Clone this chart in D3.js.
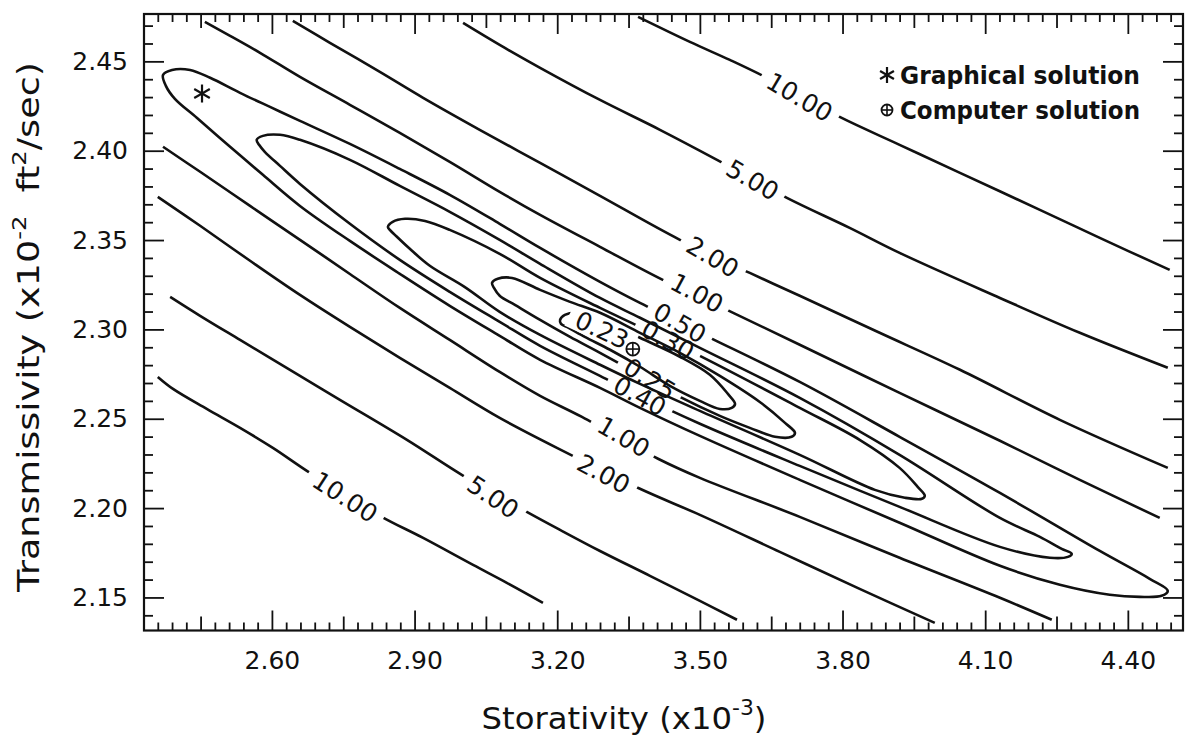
<!DOCTYPE html>
<html>
<head>
<meta charset="utf-8">
<script src="https://cdn.jsdelivr.net/npm/d3@7/dist/d3.min.js"></script>
<style>
  body { margin: 0; background: #fff; }
  text { font-family: "DejaVu Sans", sans-serif; fill: #111; }
</style>
</head>
<body>
<svg id="chart" width="1188" height="744"></svg>
<script>
// axis extents: storativity (x10^-3), transmissivity (x10^-2 ft2/sec)
const storExtent = [2.331, 4.516];
const transExtent = [2.1315, 2.4765];
const storTicks = [2.60, 2.90, 3.20, 3.50, 3.80, 4.10, 4.40];
const transTicks = [2.15, 2.20, 2.25, 2.30, 2.35, 2.40, 2.45];

// closed contours, [storativity, transmissivity]
const ring023 = [[3.206,2.3053],[3.216,2.3081],[3.243,2.3093],[3.290,2.3059],[3.374,2.2953],[3.458,2.2847],[3.521,2.2746],[3.559,2.2639],[3.574,2.2583],
  [3.567,2.2561],[3.542,2.2555],[3.500,2.2600],[3.437,2.2684],[3.374,2.2791],[3.311,2.2886],[3.258,2.2958],[3.224,2.3009],[3.208,2.3031]];
const ring025 = [[3.063,2.3260],[3.075,2.3283],[3.105,2.3288],[3.164,2.3221],[3.227,2.3154],[3.290,2.3093],[3.374,2.2981],[3.458,2.2869],[3.542,2.2740],[3.626,2.2594],[3.679,2.2477],[3.700,2.2421],
  [3.693,2.2399],[3.658,2.2399],[3.605,2.2449],[3.542,2.2516],[3.458,2.2622],[3.374,2.2746],[3.290,2.2869],[3.227,2.2958],[3.164,2.3053],[3.111,2.3137],[3.079,2.3188],[3.067,2.3232]];
const ring030 = [[2.844,2.3574],[2.854,2.3602],[2.880,2.3619],[2.922,2.3607],[2.974,2.3557],[3.079,2.3423],[3.164,2.3288],[3.290,2.3120],[3.374,2.3014],[3.500,2.2852],[3.710,2.2561],[3.836,2.2382],[3.920,2.2225],[3.958,2.2119],[3.973,2.2069],
  [3.967,2.2052],[3.931,2.2058],[3.868,2.2102],[3.710,2.2298],[3.500,2.2544],[3.374,2.2695],[3.290,2.2802],[3.164,2.2969],[3.079,2.3098],[3.005,2.3238],[2.932,2.3356],[2.890,2.3451],[2.861,2.3523],[2.848,2.3557]];
const ring040 = [[2.568,2.4061],[2.581,2.4083],[2.617,2.4089],[2.659,2.4061],[2.764,2.3949],[2.869,2.3803],[2.974,2.3658],[3.079,2.3501],[3.164,2.3367],[3.290,2.3176],[3.374,2.3065],[3.500,2.2897],[3.710,2.2617],[3.920,2.2298],[4.131,2.1945],[4.215,2.1839],[4.261,2.1772],[4.282,2.1744],
  [4.274,2.1727],[4.236,2.1722],[4.131,2.1783],[3.920,2.2007],[3.710,2.2236],[3.500,2.2472],[3.374,2.2628],[3.290,2.2740],[3.164,2.2908],[3.079,2.3042],[2.974,2.3210],[2.869,2.3389],[2.764,2.3591],[2.659,2.3814],[2.617,2.3915],[2.585,2.3994],[2.573,2.4033]];
const ring050 = [[2.371,2.4424],[2.390,2.4452],[2.428,2.4452],[2.470,2.4408],[2.533,2.4324],[2.596,2.4245],[2.659,2.4167],[2.764,2.4038],[2.869,2.3898],[2.974,2.3753],[3.079,2.3591],[3.164,2.3456],[3.290,2.3266],[3.374,2.3148],[3.500,2.2981],[3.710,2.2706],[3.920,2.2399],[4.131,2.2085],[4.341,2.1760],[4.446,2.1604],[4.484,2.1537],
  [4.471,2.1509],[4.425,2.1503],[4.362,2.1515],[4.257,2.1571],[4.131,2.1677],[3.920,2.1918],[3.710,2.2158],[3.500,2.2404],[3.374,2.2561],[3.290,2.2673],[3.164,2.2830],[3.079,2.2964],[2.974,2.3132],[2.869,2.3311],[2.764,2.3495],[2.659,2.3691],[2.581,2.3865],[2.512,2.4022],[2.442,2.4184],[2.396,2.4290],[2.377,2.4363]];

// open contours (upper and lower branches)
const upper100 = [[2.459,2.4721],[2.512,2.4643],[2.575,2.4548],[2.659,2.4413],[2.764,2.4257],[2.869,2.4100],[2.974,2.3938],[3.079,2.3770],[3.164,2.3641],[3.290,2.3462],[3.422,2.3277],[3.557,2.3109],[3.710,2.2914],[3.920,2.2645],[4.131,2.2377],[4.299,2.2158],[4.467,2.1945]];
const lower100 = [[2.371,2.4022],[2.449,2.3882],[2.554,2.3691],[2.659,2.3501],[2.764,2.3310],[2.869,2.3120],[2.974,2.2941],[3.079,2.2762],[3.164,2.2628],[3.252,2.2510],[3.412,2.2276],[3.500,2.2169],[3.710,2.1951],[3.920,2.1722],[4.131,2.1498],[4.240,2.1375]];
const upper200 = [[2.644,2.4727],[2.722,2.4604],[2.827,2.4441],[2.918,2.4296],[3.037,2.4117],[3.164,2.3932],[3.290,2.3747],[3.458,2.3501],[3.605,2.3316],[3.710,2.3188],[3.878,2.2981],[4.047,2.2774],[4.257,2.2494],[4.484,2.2225]];
const lower200 = [[2.360,2.3742],[2.449,2.3580],[2.554,2.3384],[2.659,2.3193],[2.764,2.3014],[2.869,2.2841],[2.974,2.2673],[3.079,2.2505],[3.216,2.2315],[3.374,2.2108],[3.500,2.1962],[3.668,2.1755],[3.836,2.1548],[3.994,2.1358]];
const upper500 = [[3.002,2.4715],[3.079,2.4592],[3.164,2.4464],[3.290,2.4284],[3.416,2.4117],[3.536,2.3949],[3.683,2.3736],[3.815,2.3568],[3.920,2.3428],[4.131,2.3176],[4.299,2.2981],[4.484,2.2785]];
const lower500 = [[2.386,2.3182],[2.449,2.3076],[2.533,2.2941],[2.659,2.2740],[2.743,2.2606],[2.884,2.2382],[3.006,2.2175],[3.136,2.1979],[3.206,2.1878],[3.290,2.1760],[3.395,2.1621],[3.500,2.1481],[3.578,2.1375]];
const upper1000 = [[3.370,2.4749],[3.479,2.4609],[3.563,2.4508],[3.637,2.4413],[3.794,2.4189],[3.920,2.4033],[4.047,2.3876],[4.215,2.3669],[4.341,2.3512],[4.488,2.3333]];
const lower1000 = [[2.360,2.2734],[2.392,2.2667],[2.463,2.2555],[2.533,2.2449],[2.602,2.2337],[2.680,2.2197],[2.827,2.1957],[2.918,2.1833],[3.023,2.1682],[3.094,2.1582],[3.170,2.1470]];

// one label per contour line, same order as contourPaths
const levelNames = ["0.23", "0.25", "0.30", "0.40", "0.50", "1.00", "1.00", "2.00", "2.00", "5.00", "5.00", "10.00", "10.00"];
const contourPaths = [ring023, ring025, ring030, ring040, ring050, upper100, lower100, upper200, lower200, upper500, lower500, upper1000, lower1000];
const labelAnchors = [[3.294,2.2998],[3.395,2.2723],[3.433,2.2941],[3.374,2.2628],[3.458,2.3037],[3.494,2.3204],[3.340,2.2399],
  [3.527,2.3406],[3.298,2.2192],[3.611,2.3837],[3.065,2.2063],[3.710,2.4301],[2.754,2.2063]];

const graphicalSolution = [2.453, 2.432];
const computerSolution = [3.359, 2.289];

const W = 1188, H = 744;
const box = { left: 144, right: 1183, top: 14, bottom: 630.5 };
const svg = d3.select('#chart');
const defs = svg.append('defs');

const x = d3.scaleLinear().domain(storExtent).range([box.left, box.right]);
const y = d3.scaleLinear().domain(transExtent).range([box.bottom, box.top]);

// tick positions: storativity every 0.03, transmissivity every 0.01
const mod = (a, n) => ((a % n) + n) % n;
const xk = d3.range(-8, 64);
const xMinor = xk.filter(k => mod(k, 5) !== 0).map(k => +(2.60 + 0.03 * k).toFixed(2));
const xMid = xk.filter(k => mod(k, 10) === 5).map(k => +(2.60 + 0.03 * k).toFixed(2));
const yMinor = d3.range(-1, 33).filter(k => mod(k, 5) !== 0).map(k => +(2.15 + 0.01 * k).toFixed(2));

function axis(gen, tf, vals, size, pad, withLabels) {
  const g = svg.append('g').attr('transform', tf)
    .call(gen.tickValues(vals).tickSize(-size).tickPadding(pad)
      .tickFormat(withLabels ? d3.format('.2f') : ''));
  g.select('.domain').remove();
  g.selectAll('line').attr('stroke', '#111').attr('stroke-width', 1.8);
  g.attr('font-size', 25);
  return g;
}

// bottom and top
[[() => d3.axisBottom(x), `translate(0,${box.bottom})`, true], [() => d3.axisTop(x), `translate(0,${box.top})`, false]].forEach(([gen, tf, lab]) => {
  axis(gen(), tf, xMinor, 8, 0, false);
  axis(gen(), tf, xMid, 14, 0, false);
  axis(gen(), tf, storTicks, 20, 21, lab);
});
// left and right
[[() => d3.axisLeft(y), `translate(${box.left},0)`, true], [() => d3.axisRight(y), `translate(${box.right},0)`, false]].forEach(([gen, tf, lab]) => {
  axis(gen(), tf, yMinor, 9, 0, false);
  axis(gen(), tf, transTicks, 20, 16, lab);
});

svg.append('rect')
  .attr('x', box.left).attr('y', box.top)
  .attr('width', box.right - box.left).attr('height', box.bottom - box.top)
  .attr('fill', 'none').attr('stroke', '#111').attr('stroke-width', 2.2);

// contour lines
defs.append('clipPath').attr('id', 'plotClip').append('rect')
  .attr('x', box.left).attr('y', box.top)
  .attr('width', box.right - box.left).attr('height', box.bottom - box.top);
const plot = svg.append('g').attr('clip-path', 'url(#plotClip)');
const labelLayer = svg.append('g');

const openLine = d3.line().x(d => x(d[0])).y(d => y(d[1])).curve(d3.curveCatmullRom.alpha(0.5));
const closedLine = d3.line().x(d => x(d[0])).y(d => y(d[1])).curve(d3.curveCatmullRomClosed.alpha(0.5));

contourPaths.forEach((pts, i) => {
  const closed = i < 5;
  const px = pts.map(p => [x(p[0]), y(p[1])]);
  const lx = x(labelAnchors[i][0]), ly = y(labelAnchors[i][1]);

  // label follows the direction of the line near it
  let best = 0, bd = Infinity;
  px.forEach((p, j) => {
    const d = (p[0] - lx) ** 2 + (p[1] - ly) ** 2;
    if (d < bd) { bd = d; best = j; }
  });
  const n = px.length;
  const a = closed ? px[(best - 1 + n) % n] : px[Math.max(best - 1, 0)];
  const b = closed ? px[(best + 1) % n] : px[Math.min(best + 1, n - 1)];
  let ang = Math.atan2(b[1] - a[1], b[0] - a[0]) * 180 / Math.PI;
  if (ang > 90) ang -= 180;
  if (ang < -90) ang += 180;
  const tf = `translate(${lx},${ly}) rotate(${ang + 3})`;

  const txt = labelLayer.append('text')
    .attr('transform', tf)
    .attr('text-anchor', 'middle')
    .attr('dy', '0.36em')
    .attr('font-size', 25)
    .text(levelNames[i]);
  const w = txt.node().getComputedTextLength();

  // cut a gap in this line only
  const mask = defs.append('mask').attr('id', 'gap' + i)
    .attr('maskUnits', 'userSpaceOnUse')
    .attr('x', 0).attr('y', 0).attr('width', W).attr('height', H);
  mask.append('rect').attr('width', W).attr('height', H).attr('fill', '#fff');
  mask.append('rect').attr('transform', tf)
    .attr('x', -w / 2 - 8).attr('y', -12).attr('width', w + 16).attr('height', 24)
    .attr('fill', '#000');

  plot.append('path')
    .attr('d', (closed ? closedLine : openLine)(pts))
    .attr('fill', 'none')
    .attr('stroke', '#111')
    .attr('stroke-width', 2.6)
    .attr('stroke-linejoin', 'round')
    .attr('mask', `url(#gap${i})`);
});

// markers
function drawStar(g, cx, cy, r) {
  [90, 30, 150].forEach(deg => {
    const t = deg * Math.PI / 180;
    g.append('line')
      .attr('x1', cx - r * Math.cos(t)).attr('y1', cy - r * Math.sin(t))
      .attr('x2', cx + r * Math.cos(t)).attr('y2', cy + r * Math.sin(t))
      .attr('stroke', '#111').attr('stroke-width', 2.2);
  });
}
function drawCross(g, cx, cy, r) {
  g.append('circle').attr('cx', cx).attr('cy', cy).attr('r', r)
    .attr('fill', 'none').attr('stroke', '#111').attr('stroke-width', 1.8);
  g.append('line').attr('x1', cx - r).attr('x2', cx + r).attr('y1', cy).attr('y2', cy)
    .attr('stroke', '#111').attr('stroke-width', 1.6);
  g.append('line').attr('x1', cx).attr('x2', cx).attr('y1', cy - r).attr('y2', cy + r)
    .attr('stroke', '#111').attr('stroke-width', 1.6);
}
const marks = svg.append('g');
drawStar(marks, x(graphicalSolution[0]), y(graphicalSolution[1]), 9);
drawCross(marks, x(computerSolution[0]), y(computerSolution[1]), 6.5);

// legend
const legend = svg.append('g');
drawStar(legend, 887, 75, 8);
drawCross(legend, 887, 110, 5.5);
legend.append('text').attr('x', 900).attr('y', 84).attr('font-size', 25).attr('font-weight', 'bold')
  .attr('textLength', 240).attr('lengthAdjust', 'spacingAndGlyphs').text('Graphical solution');
legend.append('text').attr('x', 900).attr('y', 119).attr('font-size', 25).attr('font-weight', 'bold')
  .attr('textLength', 240).attr('lengthAdjust', 'spacingAndGlyphs').text('Computer solution');

// axis titles
const xt = svg.append('text').attr('x', 624).attr('y', 729).attr('text-anchor', 'middle')
  .attr('font-size', 31).attr('textLength', 285).attr('lengthAdjust', 'spacingAndGlyphs');
xt.append('tspan').text('Storativity (x10');
xt.append('tspan').attr('font-size', 21).attr('dy', -14).text('-3');
xt.append('tspan').attr('dy', 14).text(')');

const yt = svg.append('text').attr('transform', 'translate(39,327) rotate(-90)')
  .attr('text-anchor', 'middle').attr('font-size', 30)
  .attr('textLength', 530).attr('lengthAdjust', 'spacingAndGlyphs');
yt.append('tspan').text('Transmissivity (x10');
yt.append('tspan').attr('font-size', 20).attr('dy', -13).text('-2');
yt.append('tspan').attr('dy', 13).text('\u00a0\u00a0ft');
yt.append('tspan').attr('font-size', 20).attr('dy', -13).text('2');
yt.append('tspan').attr('dy', 13).text('/sec)');
</script>
</body>
</html>
